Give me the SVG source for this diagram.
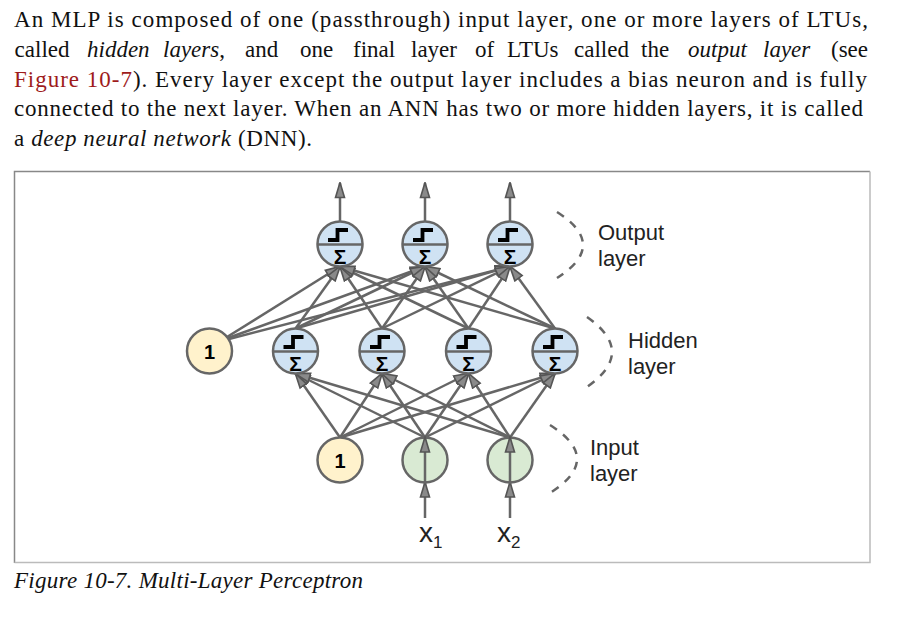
<svg xmlns="http://www.w3.org/2000/svg" xmlns:xlink="http://www.w3.org/1999/xlink" width="903" height="618" viewBox="0 0 903 618">
<style>
.para{font-family:"Liberation Serif","Times New Roman",serif;font-size:23px;fill:#111}
.i{font-style:italic}
.red{fill:#9e1b1b}
.lbl{font-family:"Liberation Sans",Arial,sans-serif;font-size:22px;fill:#222}
.conn line,.conn path{stroke:#666;stroke-width:2.5;fill:none}
.arr{marker-end:url(#ah)}
.dash{stroke:#666;stroke-width:2.5;fill:none;stroke-dasharray:8 8}
.nc{stroke:#666;stroke-width:2.5}
.sig{font-family:"Liberation Sans",Arial,sans-serif;font-weight:bold;font-size:21px;fill:#000;text-anchor:middle}
.one{font-family:"Liberation Sans",Arial,sans-serif;font-weight:bold;font-size:20px;fill:#000;text-anchor:middle}
</style>
<defs>
<marker id="ah" markerUnits="userSpaceOnUse" markerWidth="17" markerHeight="12" refX="15.5" refY="5.5" orient="auto" viewBox="0 0 17 11">
<path d="M1,1 L16,5.5 L1,10 z" fill="#8a8a8a" stroke="#555" stroke-width="1.6" stroke-linejoin="miter"/>
</marker>
<g id="ltu">
<circle r="22.5" fill="#cfe2f3" class="nc"/>
<line x1="-22.5" y1="0.5" x2="22.5" y2="0.5" class="nc"/>
<path d="M-12,-4 H-2.5 V-14 H8" fill="none" stroke="#000" stroke-width="3.8"/>
<text x="0" y="19.5" class="sig">Σ</text>
</g>
<g id="bias">
<circle r="22.5" fill="#fff2cc" class="nc"/>
<text x="0" y="7.5" class="one">1</text>
</g>
<g id="inp">
<circle r="22.5" fill="#d9ead3" class="nc"/>
</g>
</defs>
<rect width="903" height="618" fill="#fff"/>

<g id="paragraph" class="para">
<text x="14" y="27" textLength="854" lengthAdjust="spacing">An MLP is composed of one (passthrough) input layer, one or more layers of LTUs,</text>
<text y="57"><tspan x="14.6">called</tspan><tspan x="87" class="i">hidden</tspan><tspan x="163" class="i">layers</tspan><tspan>,</tspan><tspan x="245">and</tspan><tspan x="300">one</tspan><tspan x="353">final</tspan><tspan x="411">layer</tspan><tspan x="475">of</tspan><tspan x="507">LTUs</tspan><tspan x="574">called</tspan><tspan x="641">the</tspan><tspan x="688" class="i">output</tspan><tspan x="763" class="i">layer</tspan></text>
<text x="868" y="57" text-anchor="end">(see</text>
<text x="14" y="86.5" textLength="853" lengthAdjust="spacing"><tspan class="red">Figure 10-7</tspan>). Every layer except the output layer includes a bias neuron and is fully</text>
<text x="14" y="116" textLength="849" lengthAdjust="spacing">connected to the next layer. When an ANN has two or more hidden layers, it is called</text>
<text x="14" y="145.5" textLength="298" lengthAdjust="spacing">a <tspan class="i">deep neural network</tspan> (DNN).</text>
</g>

<g id="frame" fill="none" stroke-width="1.5">
<path d="M14.5,563 V171.5 H870" stroke="#888"/>
<path d="M870,171.5 V562.5 H14.5" stroke="#bbb"/>
</g>

<g id="connectors" class="conn">
<line class="arr" x1="340" y1="221.5" x2="340" y2="183"/>
<line class="arr" x1="425" y1="221.5" x2="425" y2="183"/>
<line class="arr" x1="510" y1="221.5" x2="510" y2="183"/>
<line class="arr" x1="227" y1="337" x2="340" y2="266.5"/>
<line class="arr" x1="228" y1="338" x2="425" y2="266.5"/>
<line class="arr" x1="229" y1="339" x2="510" y2="266.5"/>
<line class="arr" x1="295.5" y1="328.5" x2="340" y2="266.5"/>
<line class="arr" x1="295.5" y1="328.5" x2="425" y2="266.5"/>
<line class="arr" x1="295.5" y1="328.5" x2="510" y2="266.5"/>
<line class="arr" x1="382" y1="328.5" x2="340" y2="266.5"/>
<line class="arr" x1="382" y1="328.5" x2="425" y2="266.5"/>
<line class="arr" x1="382" y1="328.5" x2="510" y2="266.5"/>
<line class="arr" x1="468.5" y1="328.5" x2="340" y2="266.5"/>
<line class="arr" x1="468.5" y1="328.5" x2="425" y2="266.5"/>
<line class="arr" x1="468.5" y1="328.5" x2="510" y2="266.5"/>
<line class="arr" x1="555" y1="328.5" x2="340" y2="266.5"/>
<line class="arr" x1="555" y1="328.5" x2="425" y2="266.5"/>
<line class="arr" x1="555" y1="328.5" x2="510" y2="266.5"/>
<line class="arr" x1="340" y1="437.5" x2="295.5" y2="373.5"/>
<line class="arr" x1="340" y1="437.5" x2="382" y2="373.5"/>
<line class="arr" x1="340" y1="437.5" x2="468.5" y2="373.5"/>
<line class="arr" x1="340" y1="437.5" x2="555" y2="373.5"/>
<line class="arr" x1="425" y1="437.5" x2="295.5" y2="373.5"/>
<line class="arr" x1="425" y1="437.5" x2="382" y2="373.5"/>
<line class="arr" x1="425" y1="437.5" x2="468.5" y2="373.5"/>
<line class="arr" x1="425" y1="437.5" x2="555" y2="373.5"/>
<line class="arr" x1="510" y1="437.5" x2="295.5" y2="373.5"/>
<line class="arr" x1="510" y1="437.5" x2="382" y2="373.5"/>
<line class="arr" x1="510" y1="437.5" x2="468.5" y2="373.5"/>
<line class="arr" x1="510" y1="437.5" x2="555" y2="373.5"/>
<line class="arr" x1="425" y1="518" x2="425" y2="482.5"/>
<line class="arr" x1="510" y1="518" x2="510" y2="482.5"/>
</g>

<g id="bias_hidden" transform="translate(209.5,351)"><use href="#bias"/></g>
<g id="h1" transform="translate(295.5,351)"><use href="#ltu"/></g>
<g id="h2" transform="translate(382,351)"><use href="#ltu"/></g>
<g id="h3" transform="translate(468.5,351)"><use href="#ltu"/></g>
<g id="h4" transform="translate(555,351)"><use href="#ltu"/></g>
<g id="o1" transform="translate(340,244)"><use href="#ltu"/></g>
<g id="o2" transform="translate(425,244)"><use href="#ltu"/></g>
<g id="o3" transform="translate(510,244)"><use href="#ltu"/></g>
<g id="bias_input" transform="translate(340,460)"><use href="#bias"/></g>
<g id="x1" transform="translate(425,460)"><use href="#inp"/><line x1="0" y1="22.5" x2="0" y2="-22.5" stroke="#666" stroke-width="2.5" marker-end="url(#ah)"/></g>
<g id="x2" transform="translate(510,460)"><use href="#inp"/><line x1="0" y1="22.5" x2="0" y2="-22.5" stroke="#666" stroke-width="2.5" marker-end="url(#ah)"/></g>

<g id="input_labels" class="lbl">
<text x="419" y="542" font-size="28">x<tspan font-size="17" dy="6">1</tspan></text>
<text x="497" y="542" font-size="28">x<tspan font-size="17" dy="6">2</tspan></text>
</g>

<g id="layer_labels">
<path class="dash" d="M557,212 Q609,245 557,278"/>
<path class="dash" d="M587,317 Q637,352 587,387"/>
<path class="dash" d="M550,425 Q604,459 550,493"/>
<text class="lbl" x="598" y="240">Output</text>
<text class="lbl" x="598" y="266">layer</text>
<text class="lbl" x="628" y="348">Hidden</text>
<text class="lbl" x="628" y="374">layer</text>
<text class="lbl" x="590" y="455">Input</text>
<text class="lbl" x="590" y="481">layer</text>
</g>

<g id="caption">
<text x="14" y="588" class="para i" font-size="22" textLength="349" lengthAdjust="spacing">Figure 10-7. Multi-Layer Perceptron</text>
</g>
</svg>
